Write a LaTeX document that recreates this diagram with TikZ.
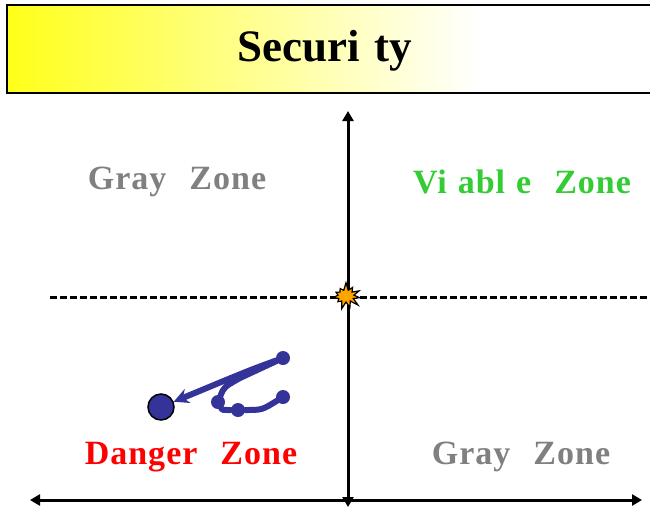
\documentclass[tikz,border=0pt]{standalone}
\usepackage{fontspec}
\setmainfont{Liberation Serif}
\usepackage{xcolor}
\usepackage{tikz}
\usetikzlibrary{arrows.meta,shapes.symbols}
\definecolor{ink}{HTML}{000000}
\definecolor{navy}{HTML}{333399}
\definecolor{grayzone}{HTML}{808080}
\definecolor{okzone}{HTML}{33CC33}
\definecolor{badzone}{HTML}{FF0000}
\definecolor{flash}{HTML}{FFA500}
\definecolor{banner}{HTML}{FFFF1A}
\newcommand{\wgap}{\hspace{23pt}}
\newcommand{\cgap}{\hspace{11pt}}
\tikzset{
  frame/.style={draw=ink, line width=2pt},
  axis/.style={draw=ink, line width=3pt, {Triangle[length=10pt,width=11pt]}-{Triangle[length=10pt,width=11pt]}},
  split/.style={draw=ink, line width=3pt, dash pattern=on 7pt off 3pt},
  zone/.style={font=\bfseries\fontsize{34}{36}\selectfont\addfontfeature{LetterSpace=3}, inner sep=0pt},
  track/.style={draw=navy, line width=6pt, line cap=round, line join=round},
  pin/.style={circle, fill=navy, inner sep=0pt, minimum size=14pt},
}

\begin{document}
\begin{tikzpicture}[x=1pt, y=-1pt]
\useasboundingbox (0,0) rectangle (650,509);
% title bar
\shade[left color=banner, right color=white] (7,5) rectangle (480,93);
\draw[frame] (7,5) rectangle (654,93);
\node[font=\bfseries\fontsize{45}{48}\selectfont, inner sep=0pt] (title) at (325,51) {Securi\hspace{15pt}ty};
% axes
\coordinate (xl) at (30,500);
\coordinate (xr) at (642,500);
\coordinate (yb) at (348,507);
\coordinate (yt) at (348,111);
\coordinate (sl) at (50,297);
\coordinate (sr) at (652,297);
\draw[split] (sl) -- (sr);
\draw[axis] (xl) -- (xr);
\draw[axis] (yb) -- (yt);
\node[starburst, starburst points=11, starburst point height=8pt, random starburst=7,
      draw=ink, fill=flash, line width=1.2pt, minimum width=32pt, minimum height=28pt, inner sep=4pt] (hit) at (346,296) {};
% zones
\node[zone, text=grayzone] (gzone1) at (177,182) {Gray\wgap Zone};
\node[zone, text=okzone] (vzone) at (522,182) {Vi\cgap abl\cgap e\wgap Zone};
\node[zone, text=badzone] (dzone) at (191,457) {Danger\wgap Zone};
\node[zone, text=grayzone] (gzone2) at (521,457) {Gray\wgap Zone};
% trajectory
\node[circle, draw=ink, fill=navy, line width=1.5pt, minimum size=26pt, inner sep=0pt] (now) at (161,407) {};
\node[pin] (p1) at (283,358) {};
\node[pin] (p2) at (218,402) {};
\node[pin] (p3) at (238,410) {};
\node[pin] (p4) at (283,397) {};
\coordinate (fork) at (240,378);
\draw[track, -{Stealth[length=15pt,width=15pt,inset=5pt]}] (p1) .. controls (250,370) .. (now);
\draw[track] (p1) -- (fork) .. controls (224,387) .. (p2);
\draw[track] (p2) .. controls (222,410) .. (p3);
\draw[track] (p3) .. controls (262,410) .. (p4);
\end{tikzpicture}
\end{document}
